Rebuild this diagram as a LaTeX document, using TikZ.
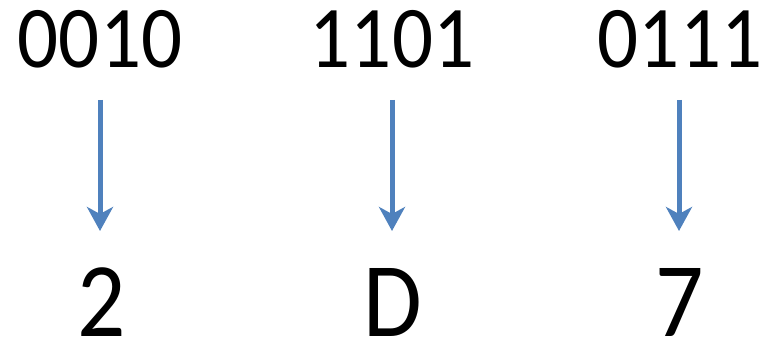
\documentclass[tikz,border=0pt]{standalone}
\usepackage{fontspec}
\setmainfont{Carlito}
\usetikzlibrary{arrows.meta}
\definecolor{arrowblue}{HTML}{4F81BD}
\begin{document}
\begin{tikzpicture}[x=1pt,y=-1pt,
  bits/.style={anchor=base,inner sep=0pt,xscale=0.92,font=\fontsize{88}{88}\selectfont},
  hexdigit/.style={anchor=base,inner sep=0pt,xscale=0.9,font=\fontsize{106}{106}\selectfont},
  conv/.style={draw=arrowblue,line width=5pt,
    -{Stealth[length=24pt,width=26pt,inset=7pt]}}]
\useasboundingbox (0,0) rectangle (765,344);
% binary groups
\node[bits] (b1) at (100,68) {0010};
\node[bits] (b2) at (392,68) {1101};
\node[bits] (b3) at (680,68) {0111};
% hexadecimal digits
\node[hexdigit] (h1) at (102,337) {2};
\node[hexdigit] (h2) at (393,337) {D};
\node[hexdigit] (h3) at (680,337) {7};
% conversion arrows
\coordinate (a1) at (100,100); \coordinate (t1) at (100,231);
\coordinate (a2) at (392,100); \coordinate (t2) at (392,231);
\coordinate (a3) at (679,100); \coordinate (t3) at (679,231);
\draw[conv] (a1) -- (t1);
\draw[conv] (a2) -- (t2);
\draw[conv] (a3) -- (t3);
\end{tikzpicture}
\end{document}
